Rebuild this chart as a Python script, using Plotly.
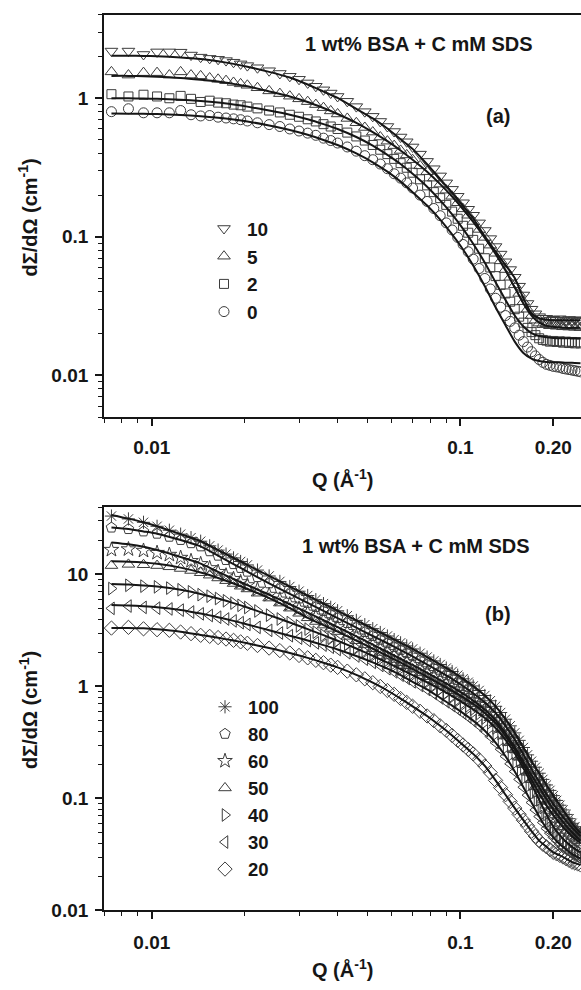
import math
import plotly.graph_objects as go

# ---------------------------------------------------------------------------
# Scattering data, dΣ/dΩ (cm^-1) versus Q (Å^-1)
# ---------------------------------------------------------------------------
Q_DATA = [0.0074, 0.0084, 0.0094, 0.0104, 0.0114, 0.0124, 0.0134, 0.0144, 0.0154, 0.0164,
          0.0174, 0.0184, 0.0194, 0.0204, 0.022, 0.024, 0.026, 0.028, 0.030, 0.032,
          0.034, 0.036, 0.038, 0.040, 0.043, 0.046, 0.049, 0.052, 0.055, 0.058,
          0.061, 0.064, 0.067, 0.070, 0.074, 0.078, 0.082, 0.086, 0.090, 0.094,
          0.098, 0.102, 0.106, 0.110, 0.115, 0.120, 0.125, 0.130, 0.135, 0.140,
          0.145, 0.150, 0.155, 0.160, 0.165, 0.170, 0.175, 0.180, 0.185, 0.190,
          0.195, 0.200, 0.205, 0.210, 0.215, 0.220, 0.225, 0.230, 0.235, 0.240, 0.245]

Q_FIT = [0.0074, 0.0084, 0.0094, 0.0104, 0.0124, 0.0144, 0.0164, 0.0184, 0.0204, 0.024,
         0.028, 0.032, 0.036, 0.040, 0.046, 0.052, 0.058, 0.064, 0.070, 0.078,
         0.086, 0.094, 0.102, 0.110, 0.120, 0.130, 0.140, 0.150, 0.160, 0.170,
         0.180, 0.190, 0.200, 0.210, 0.220, 0.230, 0.245]

# panel (a): 1 wt% BSA with 0-10 mM SDS, measured points
A_10 = [2.19, 2.19, 2.07, 2.16, 2.16, 2.15, 2.05, 1.98, 1.94, 1.91,
        1.87, 1.82, 1.77, 1.72, 1.66, 1.58, 1.51, 1.44, 1.37, 1.29,
        1.22, 1.15, 1.09, 1.03, 0.95, 0.87, 0.80, 0.74, 0.68, 0.625,
        0.575, 0.525, 0.485, 0.445, 0.395, 0.35, 0.31, 0.275, 0.245, 0.22,
        0.196, 0.176, 0.158, 0.143, 0.126, 0.111, 0.097, 0.085, 0.075, 0.066,
        0.058, 0.051, 0.044, 0.038, 0.033, 0.030, 0.0278, 0.0265, 0.0258, 0.0258,
        0.025, 0.0254, 0.0249, 0.0256, 0.0251, 0.0247, 0.0253, 0.0249, 0.0252, 0.0246, 0.025]
A_5 = [1.55, 1.47, 1.53, 1.53, 1.47, 1.55, 1.47, 1.45, 1.40, 1.37,
       1.34, 1.30, 1.27, 1.24, 1.19, 1.13, 1.08, 1.035, 0.99, 0.945,
       0.90, 0.855, 0.81, 0.77, 0.715, 0.665, 0.615, 0.57, 0.525, 0.49,
       0.455, 0.42, 0.39, 0.36, 0.325, 0.295, 0.265, 0.24, 0.217, 0.196,
       0.176, 0.159, 0.143, 0.129, 0.113, 0.099, 0.087, 0.076, 0.067, 0.058,
       0.051, 0.045, 0.039, 0.034, 0.030, 0.027, 0.025, 0.0238, 0.0232, 0.0236,
       0.0228, 0.0233, 0.0226, 0.0231, 0.0224, 0.0229, 0.0223, 0.0228, 0.0222, 0.0226, 0.0221]
A_2 = [1.07, 1.03, 1.06, 1.03, 1.0, 1.04, 0.99, 0.94, 0.96, 0.93,
       0.92, 0.90, 0.89, 0.87, 0.845, 0.815, 0.79, 0.76, 0.735, 0.705,
       0.68, 0.65, 0.625, 0.60, 0.565, 0.53, 0.495, 0.46, 0.425, 0.395,
       0.365, 0.34, 0.315, 0.29, 0.26, 0.235, 0.21, 0.19, 0.17, 0.152,
       0.135, 0.12, 0.107, 0.095, 0.082, 0.07, 0.06, 0.052, 0.045, 0.039,
       0.034, 0.03, 0.0265, 0.024, 0.022, 0.0205, 0.0195, 0.0185, 0.018, 0.0178,
       0.0175, 0.0177, 0.0174, 0.0176, 0.0172, 0.0175, 0.0171, 0.0174, 0.017, 0.0173, 0.017]
A_0 = [0.80, 0.84, 0.785, 0.785, 0.785, 0.815, 0.76, 0.745, 0.75, 0.73,
       0.72, 0.71, 0.70, 0.685, 0.665, 0.645, 0.625, 0.60, 0.58, 0.56,
       0.54, 0.515, 0.495, 0.475, 0.445, 0.415, 0.385, 0.36, 0.335, 0.31,
       0.285, 0.265, 0.245, 0.225, 0.20, 0.18, 0.16, 0.142, 0.126, 0.112,
       0.099, 0.088, 0.078, 0.069, 0.059, 0.05, 0.042, 0.036, 0.031, 0.027,
       0.0245, 0.022, 0.0195, 0.0175, 0.016, 0.0148, 0.0138, 0.013, 0.0124, 0.012,
       0.0118, 0.0116, 0.0115, 0.0114, 0.0112, 0.0111, 0.011, 0.0109, 0.0108, 0.0107, 0.0106]

# panel (a): model fits
FIT_A_10 = [2.03, 2.03, 2.02, 2.01, 1.97, 1.92, 1.85, 1.77, 1.69, 1.55,
            1.41, 1.256, 1.117, 1.005, 0.838, 0.715, 0.605, 0.506, 0.431, 0.334,
            0.261, 0.208, 0.167, 0.136, 0.1006, 0.0784, 0.0624, 0.0504, 0.036, 0.028,
            0.0258, 0.0252, 0.025, 0.025, 0.025, 0.025, 0.025]
FIT_A_5 = [1.45, 1.45, 1.44, 1.43, 1.40, 1.36, 1.32, 1.27, 1.22, 1.12,
           1.03, 0.94, 0.85, 0.77, 0.665, 0.57, 0.49, 0.42, 0.36, 0.295,
           0.24, 0.195, 0.158, 0.128, 0.098, 0.075, 0.057, 0.043, 0.033, 0.027,
           0.024, 0.0228, 0.0224, 0.0222, 0.022, 0.022, 0.022]
FIT_A_2 = [1.0, 1.0, 0.995, 0.99, 0.975, 0.955, 0.93, 0.90, 0.87, 0.815,
           0.76, 0.705, 0.65, 0.60, 0.525, 0.455, 0.39, 0.335, 0.285, 0.23,
           0.183, 0.145, 0.114, 0.089, 0.065, 0.047, 0.035, 0.027, 0.0225, 0.0202,
           0.0192, 0.0188, 0.0186, 0.0185, 0.0185, 0.0185, 0.0185]
FIT_A_0 = [0.775, 0.774, 0.772, 0.768, 0.757, 0.742, 0.724, 0.703, 0.68, 0.635,
           0.59, 0.545, 0.50, 0.46, 0.40, 0.345, 0.295, 0.25, 0.21, 0.168,
           0.133, 0.104, 0.081, 0.062, 0.044, 0.031, 0.023, 0.0175, 0.0145, 0.0132,
           0.0127, 0.0125, 0.0124, 0.0124, 0.0123, 0.0123, 0.0122]

# panel (b): 1 wt% BSA with 20-100 mM SDS, measured points
B_100 = [33.2, 31.3, 29.2, 26.9, 24.8, 22.9, 21.3, 19.8, 18.0, 16.5,
         15.2, 14.05, 13.05, 12.16, 10.94, 9.69, 8.66, 7.80, 7.09, 6.48,
         5.95, 5.49, 5.09, 4.74, 4.28, 3.89, 3.56, 3.28, 3.03, 2.82,
         2.62, 2.45, 2.30, 2.16, 1.98, 1.83, 1.69, 1.57, 1.46, 1.36,
         1.26, 1.17, 1.09, 1.01, 0.92, 0.83, 0.745, 0.665, 0.585, 0.51,
         0.445, 0.385, 0.33, 0.285, 0.245, 0.215, 0.19, 0.168, 0.148, 0.132,
         0.118, 0.106, 0.096, 0.087, 0.079, 0.072, 0.066, 0.06, 0.056, 0.052, 0.049]
B_80 = [26.2, 25.4, 24.2, 23.1, 21.7, 20.3, 19.0, 17.8, 16.1, 14.7,
        13.45, 12.36, 11.42, 10.58, 9.46, 8.33, 7.45, 6.71, 6.1, 5.57,
        5.12, 4.72, 4.38, 4.08, 3.68, 3.35, 3.06, 2.82, 2.61, 2.43,
        2.25, 2.11, 1.98, 1.86, 1.70, 1.57, 1.45, 1.35, 1.26, 1.17,
        1.085, 1.01, 0.94, 0.87, 0.80, 0.72, 0.65, 0.58, 0.51, 0.445,
        0.39, 0.335, 0.288, 0.247, 0.212, 0.183, 0.16, 0.14, 0.123, 0.109,
        0.098, 0.089, 0.081, 0.074, 0.068, 0.063, 0.059, 0.055, 0.052, 0.049, 0.046]
B_60 = [16.6, 16.8, 16.3, 15.6, 15.0, 14.1, 13.2, 12.4, 11.4, 10.55,
        9.8, 9.13, 8.55, 8.03, 7.33, 6.59, 5.98, 5.42, 4.96, 4.57,
        4.22, 3.91, 3.63, 3.39, 3.07, 2.80, 2.56, 2.36, 2.18, 2.03,
        1.89, 1.76, 1.66, 1.555, 1.425, 1.32, 1.225, 1.14, 1.066, 0.993,
        0.926, 0.86, 0.807, 0.747, 0.685, 0.618, 0.559, 0.499, 0.439, 0.383,
        0.334, 0.289, 0.248, 0.214, 0.184, 0.161, 0.142, 0.126, 0.111, 0.099,
        0.089, 0.08, 0.073, 0.067, 0.061, 0.057, 0.053, 0.05, 0.047, 0.044, 0.042]
B_50 = [12.0, 12.3, 12.2, 12.0, 11.7, 11.3, 10.85, 10.35, 9.85, 9.3,
        8.8, 8.3, 7.85, 7.42, 6.8, 6.15, 5.55, 5.0, 4.5, 4.1,
        3.8, 3.53, 3.3, 3.09, 2.8, 2.56, 2.35, 2.17, 2.01, 1.87,
        1.74, 1.63, 1.53, 1.43, 1.32, 1.22, 1.13, 1.05, 0.98, 0.915,
        0.855, 0.80, 0.75, 0.70, 0.64, 0.58, 0.525, 0.47, 0.415, 0.362,
        0.315, 0.272, 0.234, 0.2, 0.171, 0.147, 0.127, 0.111, 0.098, 0.087,
        0.078, 0.071, 0.065, 0.06, 0.056, 0.052, 0.049, 0.046, 0.044, 0.042, 0.04]
B_40 = [7.48, 8.0, 7.86, 7.75, 7.55, 7.3, 7.0, 6.6, 6.4, 6.1,
        5.82, 5.55, 5.3, 5.07, 4.72, 4.33, 4.0, 3.72, 3.47, 3.25,
        3.05, 2.87, 2.71, 2.56, 2.36, 2.18, 2.02, 1.88, 1.75, 1.63,
        1.53, 1.43, 1.34, 1.26, 1.17, 1.09, 1.01, 0.945, 0.88, 0.82,
        0.765, 0.715, 0.668, 0.625, 0.573, 0.523, 0.474, 0.426, 0.379, 0.334,
        0.292, 0.253, 0.218, 0.186, 0.158, 0.134, 0.114, 0.097, 0.083, 0.072,
        0.063, 0.056, 0.051, 0.047, 0.044, 0.041, 0.039, 0.037, 0.0355, 0.034, 0.033]
B_30 = [4.98, 5.22, 5.08, 5.0, 4.92, 4.8, 4.62, 4.45, 4.3, 4.15,
        4.0, 3.85, 3.71, 3.58, 3.37, 3.17, 3.0, 2.84, 2.7, 2.57,
        2.45, 2.34, 2.24, 2.14, 2.0, 1.87, 1.75, 1.64, 1.54, 1.44,
        1.35, 1.26, 1.18, 1.10, 1.02, 0.94, 0.865, 0.79, 0.73, 0.675,
        0.625, 0.578, 0.535, 0.495, 0.448, 0.402, 0.358, 0.315, 0.275, 0.238,
        0.204, 0.174, 0.148, 0.126, 0.107, 0.092, 0.079, 0.069, 0.061, 0.054,
        0.049, 0.045, 0.042, 0.039, 0.037, 0.035, 0.0335, 0.032, 0.031, 0.030, 0.029]
B_20 = [3.32, 3.37, 3.27, 3.21, 3.17, 3.06, 2.96, 2.86, 2.8, 2.73,
        2.65, 2.58, 2.5, 2.43, 2.32, 2.2, 2.09, 1.99, 1.89, 1.80,
        1.71, 1.63, 1.55, 1.48, 1.37, 1.27, 1.17, 1.08, 1.0, 0.92,
        0.85, 0.78, 0.72, 0.665, 0.60, 0.545, 0.495, 0.445, 0.405, 0.365,
        0.33, 0.30, 0.274, 0.25, 0.222, 0.195, 0.17, 0.145, 0.125, 0.108,
        0.094, 0.082, 0.072, 0.064, 0.057, 0.051, 0.046, 0.042, 0.039, 0.037,
        0.035, 0.033, 0.032, 0.031, 0.030, 0.029, 0.028, 0.027, 0.0265, 0.026, 0.0255]

# panel (b): model fits
FIT_B_100 = [34.0, 31.5, 29.2, 26.9, 22.9, 19.8, 16.5, 14.05, 12.16, 9.69,
             7.80, 6.48, 5.49, 4.74, 3.89, 3.28, 2.82, 2.45, 2.16, 1.83,
             1.57, 1.36, 1.17, 1.01, 0.83, 0.665, 0.51, 0.385, 0.285, 0.215,
             0.168, 0.132, 0.106, 0.087, 0.072, 0.06, 0.049]
FIT_B_80 = [26.2, 25.4, 24.2, 23.1, 20.3, 17.8, 14.7, 12.36, 10.58, 8.33,
            6.71, 5.57, 4.72, 4.08, 3.35, 2.82, 2.43, 2.11, 1.86, 1.57,
            1.35, 1.17, 1.01, 0.87, 0.72, 0.58, 0.445, 0.335, 0.247, 0.183,
            0.14, 0.109, 0.089, 0.074, 0.063, 0.055, 0.046]
FIT_B_60 = [19.3, 18.6, 17.7, 16.5, 14.3, 12.5, 10.55, 9.13, 8.03, 6.59,
            5.42, 4.57, 3.91, 3.39, 2.80, 2.36, 2.03, 1.76, 1.555, 1.32,
            1.14, 0.993, 0.86, 0.747, 0.618, 0.499, 0.383, 0.289, 0.214, 0.161,
            0.126, 0.099, 0.08, 0.067, 0.057, 0.05, 0.042]
FIT_B_50 = [13.1, 13.0, 12.8, 12.45, 11.5, 10.4, 9.3, 8.3, 7.42, 6.15,
            5.0, 4.1, 3.53, 3.09, 2.56, 2.17, 1.87, 1.63, 1.43, 1.22,
            1.05, 0.915, 0.80, 0.70, 0.58, 0.47, 0.362, 0.272, 0.2, 0.147,
            0.111, 0.087, 0.071, 0.06, 0.052, 0.046, 0.04]
FIT_B_40 = [8.2, 8.12, 7.98, 7.8, 7.3, 6.7, 6.1, 5.55, 5.07, 4.33,
            3.72, 3.25, 2.87, 2.56, 2.18, 1.88, 1.63, 1.43, 1.26, 1.09,
            0.945, 0.82, 0.715, 0.625, 0.523, 0.426, 0.334, 0.253, 0.186, 0.134,
            0.097, 0.072, 0.056, 0.047, 0.041, 0.037, 0.033]
FIT_B_30 = [5.33, 5.28, 5.2, 5.1, 4.82, 4.48, 4.15, 3.85, 3.58, 3.17,
            2.84, 2.57, 2.34, 2.14, 1.87, 1.64, 1.44, 1.26, 1.10, 0.94,
            0.79, 0.675, 0.578, 0.495, 0.402, 0.315, 0.238, 0.174, 0.126, 0.092,
            0.069, 0.054, 0.045, 0.039, 0.035, 0.032, 0.029]
FIT_B_20 = [3.32, 3.33, 3.3, 3.24, 3.08, 2.88, 2.72, 2.57, 2.43, 2.2,
            1.99, 1.80, 1.63, 1.48, 1.27, 1.08, 0.92, 0.78, 0.665, 0.545,
            0.445, 0.365, 0.30, 0.25, 0.195, 0.145, 0.108, 0.082, 0.064, 0.051,
            0.042, 0.037, 0.033, 0.031, 0.029, 0.027, 0.0255]

# (label, marker symbol, marker size, points, fit) for each panel
SERIES_A = [("10", "triangle-down-open", 11, A_10, FIT_A_10),
            ("5", "triangle-up-open", 11, A_5, FIT_A_5),
            ("2", "square-open", 9, A_2, FIT_A_2),
            ("0", "circle-open", 10, A_0, FIT_A_0)]
SERIES_B = [("100", "asterisk-open", 11, B_100, FIT_B_100),
            ("80", "pentagon-open", 11, B_80, FIT_B_80),
            ("60", "star-open", 11, B_60, FIT_B_60),
            ("50", "triangle-up-open", 11, B_50, FIT_B_50),
            ("40", "triangle-right-open", 11, B_40, FIT_B_40),
            ("30", "triangle-left-open", 11, B_30, FIT_B_30),
            ("20", "diamond-open", 11, B_20, FIT_B_20)]

X_MAJOR = [0.01, 0.1, 0.2]
X_MAJOR_TEXT = ["0.01", "0.1", "0.20"]
X_MINOR = [0.007, 0.008, 0.009, 0.02, 0.03, 0.04, 0.05, 0.06, 0.07, 0.08, 0.09]
YA_MAJOR = [0.01, 0.1, 1]
YA_MAJOR_TEXT = ["0.01", "0.1", "1"]
YA_MINOR = [0.005, 0.006, 0.007, 0.008, 0.009, 0.02, 0.03, 0.04, 0.05, 0.06, 0.07, 0.08,
            0.09, 0.2, 0.3, 0.4, 0.5, 0.6, 0.7, 0.8, 0.9, 2, 3, 4]
YB_MAJOR = [0.01, 0.1, 1, 10]
YB_MAJOR_TEXT = ["0.01", "0.1", "1", "10"]
YB_MINOR = [0.02, 0.03, 0.04, 0.05, 0.06, 0.07, 0.08, 0.09, 0.2, 0.3, 0.4, 0.5, 0.6, 0.7,
            0.8, 0.9, 2, 3, 4, 5, 6, 7, 8, 9, 20, 30, 40]

TITLE = "1 wt% BSA + C mM SDS"
X_TITLE = "Q (Å<sup>-1</sup>)"
Y_TITLE = "dΣ/dΩ (cm<sup>-1</sup>)"

for _, _, _, pts, fit in SERIES_A + SERIES_B:
    assert len(pts) == len(Q_DATA) and len(fit) == len(Q_FIT)

# ---------------------------------------------------------------------------
# Figure geometry (pixels of a 581 x 990 page)
# ---------------------------------------------------------------------------
W, H = 581, 990
INK = "#161616"
MARK = "#3c3c3c"
FAMILY = "Liberation Sans"


def fx(p):
    return p / W


def fy(p):
    return 1 - p / H


fig = go.Figure()


def add_panel(series, xa, ya, legend_name):
    for label, symbol, size, pts, _ in series:
        fig.add_trace(go.Scatter(
            x=Q_DATA, y=pts, mode="markers", name=label,
            legend=legend_name, legendgroup=legend_name + label,
            marker=dict(symbol=symbol, size=size, color=MARK,
                        line=dict(width=1, color=MARK)),
            xaxis=xa, yaxis=ya))
    for label, _, _, _, fit in series:
        fig.add_trace(go.Scatter(
            x=Q_FIT, y=fit, mode="lines", showlegend=False,
            line=dict(color=INK, width=2, shape="spline", smoothing=0.6),
            xaxis=xa, yaxis=ya))


add_panel(SERIES_A, "x", "y", "legend")
add_panel(SERIES_B, "x2", "y2", "legend2")

tick_font = dict(family=FAMILY, size=19, color=INK, weight="bold")
x_range = [math.log10(0.007), math.log10(0.007) + (W - 104) / 308.6]


def x_axis(anchor, standoff):
    return dict(type="log", range=x_range, domain=[fx(104), 1], anchor=anchor,
                showline=True, linecolor=INK, linewidth=1.8, mirror=True,
                ticks="outside", ticklen=7, tickwidth=1.5, tickcolor=INK,
                tickmode="array", tickvals=X_MAJOR, ticktext=X_MAJOR_TEXT,
                tickfont=tick_font, ticklabelstandoff=standoff,
                minor=dict(tickvals=X_MINOR, ticks="outside", ticklen=4,
                           tickwidth=1.3, tickcolor=INK, showgrid=False),
                showgrid=False, zeroline=False)


def y_axis(anchor, rng, top, bottom, vals, text, minor):
    return dict(type="log", range=rng, domain=[fy(bottom), fy(top)], anchor=anchor,
                showline=True, linecolor=INK, linewidth=1.8, mirror=False,
                ticks="outside", ticklen=7, tickwidth=1.5, tickcolor=INK,
                tickmode="array", tickvals=vals, ticktext=text,
                tickfont=tick_font, ticklabelstandoff=3,
                minor=dict(tickvals=minor, ticks="outside", ticklen=4,
                           tickwidth=1.3, tickcolor=INK, showgrid=False),
                showgrid=False, zeroline=False)


def legend_style(size):
    return dict(xanchor="left", yanchor="top", bgcolor="rgba(0,0,0,0)",
                borderwidth=0, tracegroupgap=0,
                font=dict(family=FAMILY, size=size, color=INK, weight="bold"),
                itemwidth=36, itemclick=False, itemdoubleclick=False)


fig.update_layout(
    width=W, height=H,
    margin=dict(l=0, r=0, t=0, b=0),
    paper_bgcolor="white", plot_bgcolor="white",
    font=dict(family=FAMILY, color=INK),
    showlegend=True,
    xaxis=x_axis("y", 5),
    yaxis=y_axis("x", [math.log10(0.005), math.log10(4)], 15, 421.7,
                 YA_MAJOR, YA_MAJOR_TEXT, YA_MINOR),
    xaxis2=x_axis("y2", 7),
    yaxis2=y_axis("x2", [-2, math.log10(40)], 512.7, 920.7,
                  YB_MAJOR, YB_MAJOR_TEXT, YB_MINOR),
    legend=dict(x=fx(201), y=fy(212), **legend_style(19)),
    legend2=dict(x=fx(202), y=fy(696), **legend_style(18.5)),
)

label_font = dict(family=FAMILY, size=20, color=INK, weight="bold")


def note(text, px, py, angle=0):
    fig.add_annotation(text=text, x=fx(px), y=fy(py), xref="paper", yref="paper",
                       xanchor="center", yanchor="middle", showarrow=False,
                       textangle=angle, font=label_font)


note(TITLE, 419, 44)
note("(a)", 498, 117)
note(TITLE, 416, 552)
note("(b)", 498, 621)
note(X_TITLE, 342.5, 484)
note(X_TITLE, 342.5, 979)
note(Y_TITLE, 28, 220, -90)
note(Y_TITLE, 28, 718, -90)

fig.write_html("out.html")
